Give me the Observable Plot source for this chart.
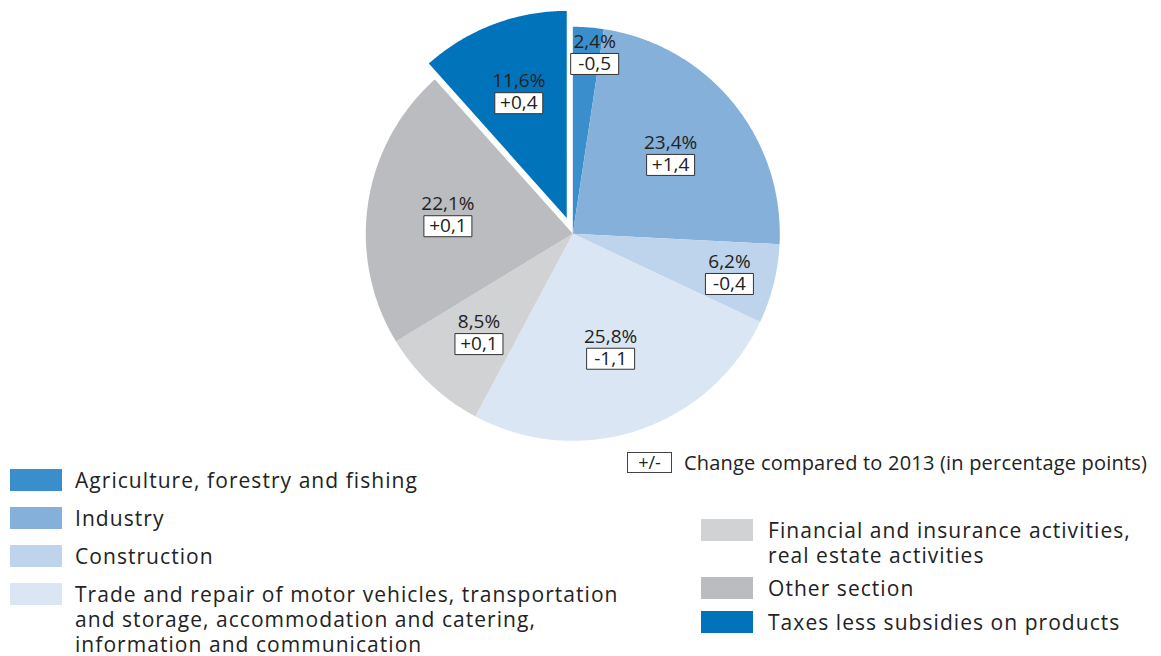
<!DOCTYPE html>
<html><head><meta charset="utf-8">
<script src="https://cdn.jsdelivr.net/npm/d3@7"></script>
<script src="https://cdn.jsdelivr.net/npm/@observablehq/plot@0.6"></script>
<style>
body{margin:0;background:#fff;font-family:"Open Sans",sans-serif;color:#222;overflow:hidden;}
#chart{width:1161px;height:450px;}
#legend{position:relative;width:1161px;height:206px;font-size:21px;line-height:25.2px;letter-spacing:1.05px;}
.sw{position:absolute;width:52px;height:22px;}
.lt{position:absolute;white-space:pre;}
.pm{position:absolute;width:45px;height:21px;border:1px solid #444;box-sizing:border-box;font-size:18px;line-height:19px;text-align:center;letter-spacing:0;}
</style></head><body><div id="chart"></div><div id="legend"></div>
<script>
// ---- data ----
const categories = [
  "Agriculture, forestry and fishing",
  "Industry",
  "Construction",
  "Trade and repair of motor vehicles, transportation and storage, accommodation and catering, information and communication",
  "Financial and insurance activities, real estate activities",
  "Other section",
  "Taxes less subsidies on products"
];
const shares = [2.4, 23.4, 6.2, 25.8, 8.5, 22.1, 11.6];
const changes = [-0.5, 1.4, -0.4, -1.1, 0.1, 0.1, 0.4];
const colors = ["#3b8ecc", "#84b0da", "#bdd4ec", "#dbe6f4", "#d1d2d4", "#bbbcc0", "#0073bb"];
const changeLegend = "Change compared to 2013 (in percentage points)";

// ---- layout ----
const W = 1161, H = 450, CX = 572.3, CY = 233.3, R = 207, EXPLODE = 17;
const exploded = new Set(["Taxes less subsidies on products"]);
const labelRadius = {
  "Agriculture, forestry and fishing": 0.88,
  "Construction": 0.78,
  "Trade and repair of motor vehicles, transportation and storage, accommodation and catering, information and communication": 0.58,
  "Financial and insurance activities, real estate activities": 0.66,
  "Taxes less subsidies on products": 0.65
};
// extra clockwise rotation of a label (radians) where the label sits off the slice's mid-angle
const labelTurn = {"Agriculture, forestry and fishing": 0.045};
const legendBreaks = {
  "Trade and repair of motor vehicles, transportation and storage, accommodation and catering, information and communication":
    "Trade and repair of motor vehicles, transportation\nand storage, accommodation and catering,\ninformation and communication",
  "Financial and insurance activities, real estate activities":
    "Financial and insurance activities,\nreal estate activities"
};

const fmtPct = v => v.toFixed(1).replace(".", ",") + "%";
const fmtChg = v => (v > 0 ? "+" : "-") + Math.abs(v).toFixed(1).replace(".", ",");

const rows = categories.map((c, i) => ({category: c, share: shares[i], change: changes[i]}));
const arcs = d3.pie().sort(null).value(d => d.share)(rows);
const polys = [], labels = [];
for (const a of arcs) {
  const c = a.data.category;
  const mid = (a.startAngle + a.endAngle) / 2;
  const off = exploded.has(c) ? EXPLODE / R : 0;
  const ox = off * Math.sin(mid), oy = off * Math.cos(mid);
  const n = Math.max(2, Math.ceil((a.endAngle - a.startAngle) / (Math.PI / 360)));
  polys.push({category: c, x: ox, y: oy});
  for (let k = 0; k <= n; k++) {
    const t = a.startAngle + (a.endAngle - a.startAngle) * k / n;
    polys.push({category: c, x: ox + Math.sin(t), y: oy + Math.cos(t)});
  }
  const lr = labelRadius[c] ?? 0.61;
  const la = mid + (labelTurn[c] ?? 0);
  labels.push({category: c, share: a.data.share, change: a.data.change, x: ox + lr * Math.sin(la), y: oy + lr * Math.cos(la)});
}

const boxSymbol = {draw(ctx) { ctx.rect(-24, -10.5, 48, 21); }};

const chart = Plot.plot({
  width: W, height: H, margin: 0,
  x: {domain: [-CX / R, (W - CX) / R], axis: null},
  y: {domain: [-(H - CY) / R, CY / R], axis: null},
  color: {domain: categories, range: colors},
  style: {fontFamily: "'Open Sans', sans-serif", fontSize: "19px", color: "#222", background: "white"},
  marks: [
    Plot.line(polys, {x: "x", y: "y", z: "category", fill: "category", stroke: "none", curve: "linear"}),
    Plot.text(labels, {x: "x", y: "y", text: d => fmtPct(d.share), dy: -11, fontSize: 19, fill: "#222"}),
    Plot.dot(labels, {x: "x", y: "y", symbol: boxSymbol, r: 5, fill: "white", stroke: "#333", strokeWidth: 1, dy: 11}),
    Plot.text(labels, {x: "x", y: "y", text: d => fmtChg(d.change), dy: 11, fontSize: 19, fill: "#222"})
  ]
});
document.getElementById("chart").appendChild(chart);

// ---- legend (HTML below the SVG) ----
const lg = document.getElementById("legend");
const leftTops = [19, 57, 95, 133];
const rightTops = [69, 127, 161];
categories.forEach((c, i) => {
  const left = i < 4;
  const top = left ? leftTops[i] : rightTops[i - 4];
  const sx = left ? 10 : 701, tx = left ? 75 : 768;
  const sw = document.createElement("div");
  sw.className = "sw"; sw.style.left = sx + "px"; sw.style.top = top + "px"; sw.style.background = colors[i];
  lg.appendChild(sw);
  const t = document.createElement("div");
  t.className = "lt"; t.style.left = tx + "px"; t.style.top = (top - 1.2) + "px";
  t.textContent = legendBreaks[c] ?? c;
  lg.appendChild(t);
});
const pm = document.createElement("div");
pm.className = "pm"; pm.style.left = "627px"; pm.style.top = "2px"; pm.textContent = "+/-";
lg.appendChild(pm);
const pmt = document.createElement("div");
pmt.className = "lt"; pmt.style.left = "684px"; pmt.style.top = "0px";
pmt.style.fontSize = "20px"; pmt.style.letterSpacing = "0.2px";
pmt.textContent = changeLegend;
lg.appendChild(pmt);
</script></body></html>
